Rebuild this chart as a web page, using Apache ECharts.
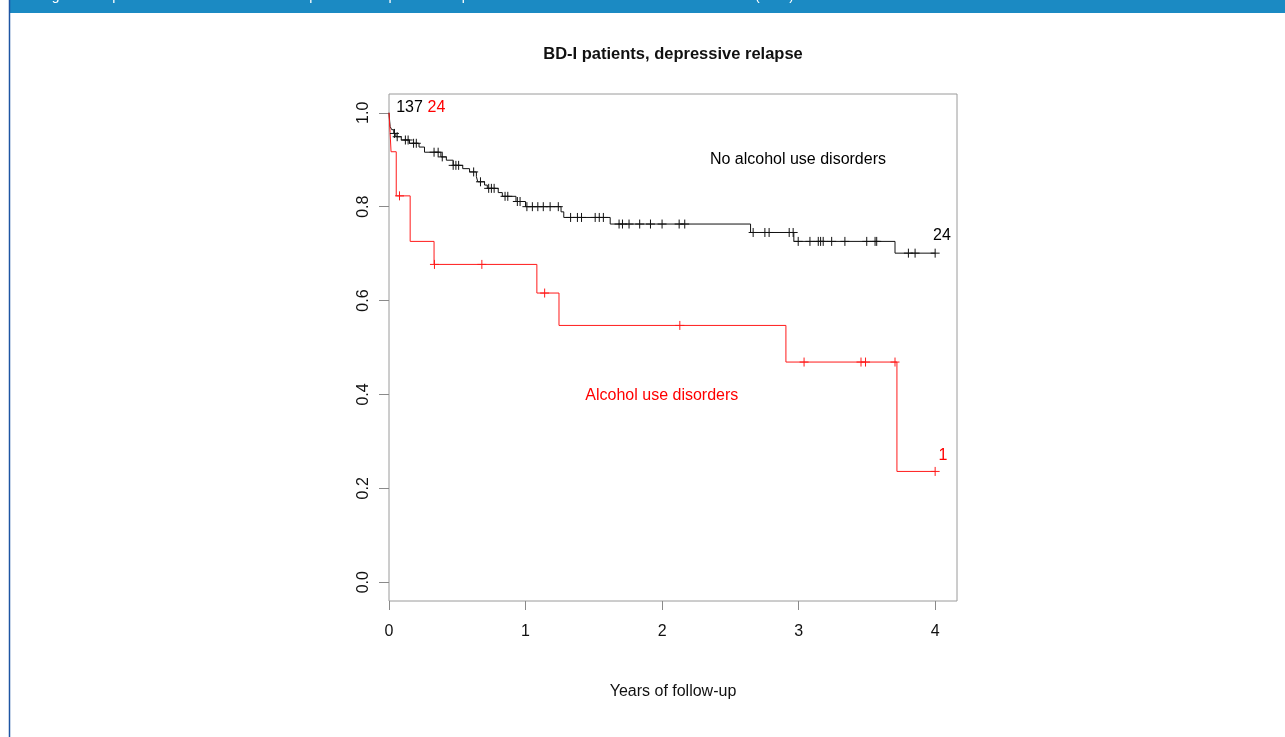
<!DOCTYPE html>
<html>
<head>
<meta charset="utf-8">
<script src="https://cdn.jsdelivr.net/npm/echarts@6/dist/echarts.min.js"></script>
<style>
html,body{margin:0;padding:0;background:#fff;}
#c{width:1285px;height:737px;}
</style>
</head>
<body>
<div id="c"></div>
<script>
// ---- data ----
const titleText = 'BD-I patients, depressive relapse';
const xAxisName = 'Years of follow-up';
const xTicks = [0, 1, 2, 3, 4];
const yTicks = [0, 0.2, 0.4, 0.6, 0.8, 1.0];

// No alcohol use disorders (black) : step times and survival after each step
const noAudTimes = [0, 0.008, 0.02, 0.035, 0.05, 0.09, 0.15, 0.22, 0.26, 0.38, 0.42, 0.47, 0.54, 0.59, 0.64, 0.65, 0.70, 0.72, 0.80, 0.83, 0.93, 1.0, 1.26, 1.28, 1.62, 2.648, 2.965, 3.706, 4.0];
const noAudSurv  = [1.0, 0.971, 0.964, 0.956, 0.949, 0.942, 0.935, 0.927, 0.916, 0.906, 0.899, 0.888, 0.881, 0.874, 0.864, 0.853, 0.846, 0.839, 0.830, 0.822, 0.811, 0.800, 0.789, 0.777, 0.763, 0.745, 0.726, 0.701, 0.701];
const noAudCensor = [0.04, 0.06, 0.12, 0.14, 0.18, 0.20, 0.33, 0.36, 0.39, 0.47, 0.49, 0.51, 0.62, 0.67, 0.73, 0.75, 0.77, 0.85, 0.87, 0.94, 0.96, 1.01, 1.05, 1.09, 1.13, 1.18, 1.24, 1.33, 1.38, 1.41, 1.51, 1.54, 1.57, 1.685, 1.71, 1.758, 1.836, 1.915, 2.0, 2.125, 2.166, 2.667, 2.753, 2.784, 2.931, 2.96, 2.997, 3.083, 3.144, 3.161, 3.18, 3.242, 3.339, 3.499, 3.56, 3.572, 3.804, 3.853, 4.0];

// Alcohol use disorders (red)
const audTimes = [0, 0.008, 0.015, 0.053, 0.155, 0.33, 1.083, 1.245, 2.907, 3.72, 4.0];
const audSurv  = [1.0, 0.958, 0.917, 0.823, 0.726, 0.677, 0.616, 0.547, 0.469, 0.236, 0.236];
const audCensor = [0.077, 0.333, 0.68, 1.14, 2.13, 3.04, 3.457, 3.49, 3.706, 4.0];

// annotations (data coordinates)
const annoText  = ['137', '24', 'No alcohol use disorders', '24', 'Alcohol use disorders', '1'];
const annoX     = [0.150, 0.348, 2.995, 4.05, 1.998, 4.058];
const annoY     = [1.012, 1.012, 0.901, 0.739, 0.398, 0.270];
const annoColor = ['#000', '#ff0000', '#000', '#000', '#ff0000', '#ff0000'];

// ---- build ----
const BLACK = '#111111';
const RED = '#ff1a1a';
const FONT = '"Liberation Sans", Arial, Helvetica, sans-serif';

function steps(ts, ss) { return ts.map((t, i) => [t, ss[i]]); }
function survAt(ts, ss, t) {
  let v = ss[0];
  for (let i = 0; i < ts.length; i++) { if (ts[i] <= t) v = ss[i]; }
  return v;
}
function censorPts(cs, ts, ss) { return cs.map(t => [t, survAt(ts, ss, t)]); }

function crossRenderer(color) {
  return function (params, api) {
    const p = api.coord([api.value(0), api.value(1)]);
    const h = 4.5;
    return {
      type: 'group',
      children: [
        { type: 'line', shape: { x1: p[0], y1: p[1] - h, x2: p[0], y2: p[1] + h }, style: { stroke: color, lineWidth: 1 } },
        { type: 'line', shape: { x1: p[0] - h, y1: p[1], x2: p[0] + h, y2: p[1] }, style: { stroke: color, lineWidth: 1 } }
      ]
    };
  };
}

const annoData = annoText.map((t, i) => [annoX[i], annoY[i], i]);

const chart = echarts.init(document.getElementById('c'), null, { renderer: 'canvas' });
chart.setOption({
  backgroundColor: '#ffffff',
  animation: false,
  grid: { left: 389, top: 94, width: 568, height: 507, show: true, borderColor: '#9a9a9a', borderWidth: 1, backgroundColor: 'transparent', containLabel: false },
  xAxis: {
    type: 'value', min: 0, max: 4.16, position: 'bottom',
    name: xAxisName, nameLocation: 'middle', nameGap: 83,
    nameTextStyle: { color: '#111', fontSize: 16, fontFamily: FONT },
    axisLine: { show: false, onZero: false },
    axisTick: { show: true, inside: false, length: 9, customValues: xTicks, lineStyle: { color: '#8a8a8a' } },
    axisLabel: { show: true, margin: 23, customValues: xTicks, color: '#111', fontSize: 16, fontFamily: FONT, formatter: v => String(v) },
    splitLine: { show: false }
  },
  yAxis: {
    type: 'value', min: -0.04, max: 1.04, position: 'left',
    axisLine: { show: false, onZero: false },
    axisTick: { show: true, inside: false, length: 10, customValues: yTicks, lineStyle: { color: '#8a8a8a' } },
    axisLabel: { show: true, rotate: 90, margin: 17, customValues: yTicks, color: '#111', fontSize: 16, fontFamily: FONT, formatter: v => Number(v).toFixed(1) },
    splitLine: { show: false }
  },
  graphic: [
    { type: 'rect', shape: { x: 9, y: 0, width: 1276, height: 13 }, style: { fill: '#1b8ac3' }, z: 100 },
    { type: 'text', x: 40, y: -11, style: { text: 'Figure 2 Kaplan-Meier curves for time to depressive relapse in BD-I patients with and without alcohol use disorders (AUD)', fill: '#ffffff', font: '14px ' + FONT }, z: 101 },
    { type: 'line', shape: { x1: 9.5, y1: 0, x2: 9.5, y2: 737 }, style: { stroke: '#1d55a3', lineWidth: 1.5 }, z: 100 },
    { type: 'text', x: 673, y: 54, style: { text: titleText, fill: '#111', font: 'bold 16.5px ' + FONT, align: 'center', verticalAlign: 'middle' } }
  ],
  series: [
    { name: 'No alcohol use disorders', type: 'line', step: 'end', data: steps(noAudTimes, noAudSurv), showSymbol: false, lineStyle: { color: BLACK, width: 1 }, z: 3 },
    { name: 'Alcohol use disorders', type: 'line', step: 'end', data: steps(audTimes, audSurv), showSymbol: false, lineStyle: { color: RED, width: 1 }, z: 3 },
    { type: 'custom', renderItem: crossRenderer(BLACK), data: censorPts(noAudCensor, noAudTimes, noAudSurv), clip: false, z: 4 },
    { type: 'custom', renderItem: crossRenderer(RED), data: censorPts(audCensor, audTimes, audSurv), clip: false, z: 4 },
    {
      type: 'custom', clip: false, z: 5,
      data: annoData,
      renderItem: function (params, api) {
        const p = api.coord([api.value(0), api.value(1)]);
        const i = api.value(2);
        return { type: 'text', x: p[0], y: p[1], style: { text: annoText[i], fill: annoColor[i], font: '16px ' + FONT, align: 'center', verticalAlign: 'middle' } };
      }
    }
  ]
});
</script>
</body>
</html>
